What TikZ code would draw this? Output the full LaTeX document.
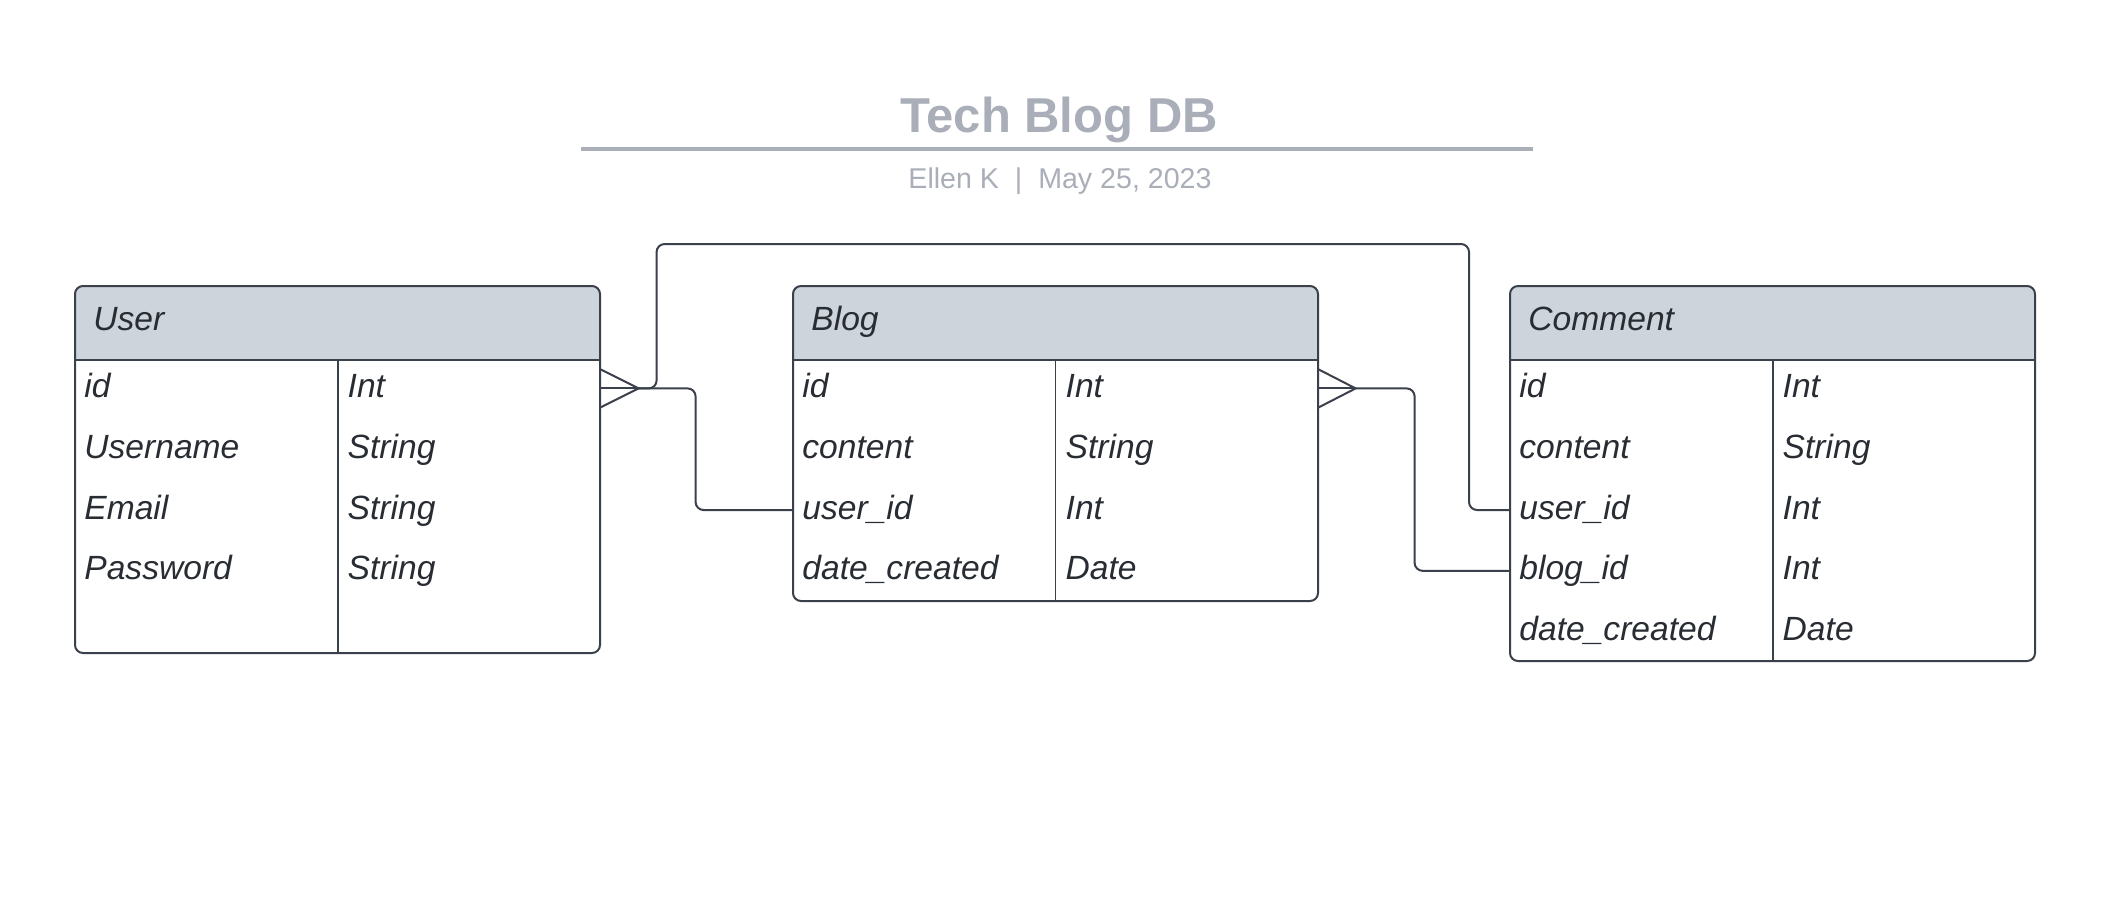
\documentclass[tikz,border=0pt]{standalone}
\usepackage{fontspec}
\setmainfont{Liberation Sans}
\usepackage{xcolor}
\usetikzlibrary{positioning}

\definecolor{ercline}{HTML}{3A414A}
\definecolor{erchead}{HTML}{CED4DB}
\definecolor{erctext}{HTML}{282C33}
\definecolor{titlegrey}{HTML}{A9AEB8}

\begin{document}
\begin{tikzpicture}[x=0.5pt,y=-0.5pt,
    entity/.style={draw=ercline, line width=1pt, rounded corners=4pt,
      minimum width=262.5pt, anchor=north west, inner sep=0pt,
      path picture={
        \fill[erchead, sharp corners] (path picture bounding box.north west)
          rectangle ([yshift=-37pt]path picture bounding box.north east);
        \draw[ercline, line width=1pt, sharp corners]
          ([yshift=-37pt]path picture bounding box.north west) -- ([yshift=-37pt]path picture bounding box.north east);
        \draw[ercline, line width=#1, sharp corners]
          ([yshift=-37pt]path picture bounding box.north) -- (path picture bounding box.south);
      }},
    entity/.default=1pt,
    entname/.style={anchor=base west, inner sep=0pt, text=erctext,
      font=\fontsize{16.8}{20}\selectfont\itshape},
    cell/.style={anchor=north west, minimum width=131.25pt, minimum height=30pt,
      text width=121.25pt, inner xsep=5pt, inner ysep=0pt, align=left,
      text height=12pt, text depth=3pt, text=erctext,
      font=\fontsize{16.8}{20}\selectfont\itshape},
    link/.style={draw=ercline, line width=1pt, rounded corners=4pt},
    crow/.style={draw=ercline, line width=1pt}]

  \useasboundingbox (0,0) rectangle (2109,902);

  % title block
  \node [anchor=base, text=titlegrey, font=\fontsize{24.5}{28}\selectfont\bfseries] (title) at (1059,132) {Tech Blog DB};
  \draw [titlegrey, line width=2pt] (581,149) -- (1533,149);
  \node [anchor=base, text=titlegrey, font=\fontsize{14.3}{17}\selectfont] (byline) at (1060,188) {Ellen K\ \ |\ \ May 25, 2023};

  % User
  \node [entity, minimum height=183.5pt] (user) at (74,285) {};
  \node [entname] (userH) at (93,330) {User};
  \node [cell] (u1) at (74,358) {id};
  \node [cell, below=0pt of u1] (u2) {Username};
  \node [cell, below=0pt of u2] (u3) {Email};
  \node [cell, below=0pt of u3] (u4) {Password};
  \node [cell, right=0pt of u1] (u1t) {Int};
  \node [cell, right=0pt of u2] (u2t) {String};
  \node [cell, right=0pt of u3] (u3t) {String};
  \node [cell, right=0pt of u4] (u4t) {String};

  % Blog
  \node [entity=0.6pt, minimum height=157.5pt] (blog) at (792,285) {};
  \node [entname] (blogH) at (811,330) {Blog};
  \node [cell] (b1) at (792,358) {id};
  \node [cell, below=0pt of b1] (b2) {content};
  \node [cell, below=0pt of b2] (b3) {user\_id};
  \node [cell, below=0pt of b3] (b4) {date\_created};
  \node [cell, right=0pt of b1] (b1t) {Int};
  \node [cell, right=0pt of b2] (b2t) {String};
  \node [cell, right=0pt of b3] (b3t) {Int};
  \node [cell, right=0pt of b4] (b4t) {Date};

  % Comment
  \node [entity, minimum height=187.5pt] (comment) at (1509,285) {};
  \node [entname] (commentH) at (1528,330) {Comment};
  \node [cell] (c1) at (1509,358) {id};
  \node [cell, below=0pt of c1] (c2) {content};
  \node [cell, below=0pt of c2] (c3) {user\_id};
  \node [cell, below=0pt of c3] (c4) {blog\_id};
  \node [cell, below=0pt of c4] (c5) {date\_created};
  \node [cell, right=0pt of c1] (c1t) {Int};
  \node [cell, right=0pt of c2] (c2t) {String};
  \node [cell, right=0pt of c3] (c3t) {Int};
  \node [cell, right=0pt of c4] (c4t) {Int};
  \node [cell, right=0pt of c5] (c5t) {Date};

  % relations
  \coordinate (ufoot) at ([xshift=19pt]u1t.east);
  \draw [crow] ([yshift=9.5pt]u1t.east) -- (ufoot) -- ([yshift=-9.5pt]u1t.east);
  \draw [crow] (u1t.east) -- (ufoot);
  \draw [link] (ufoot) -- ++(9pt,0) |- (1469,244) |- (c3.west);
  \draw [link] (ufoot) -- ++(28.5pt,0) |- (b3.west);

  \coordinate (bfoot) at ([xshift=18.5pt]b1t.east);
  \draw [crow] ([yshift=9.5pt]b1t.east) -- (bfoot) -- ([yshift=-9.5pt]b1t.east);
  \draw [crow] (b1t.east) -- (bfoot);
  \draw [link] (bfoot) -- ++(29.5pt,0) |- (c4.west);

\end{tikzpicture}
\end{document}
